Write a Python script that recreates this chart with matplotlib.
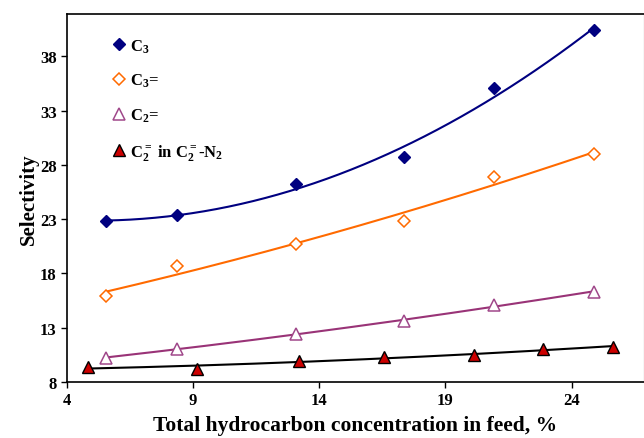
import matplotlib
matplotlib.use('Agg')
import matplotlib.pyplot as plt
import numpy as np

plt.rcParams['font.family'] = ['Liberation Serif', 'DejaVu Serif']
plt.rcParams['font.weight'] = 'bold'
plt.rcParams['mathtext.fontset'] = 'custom'
plt.rcParams['mathtext.rm'] = 'Liberation Serif:bold'
plt.rcParams['mathtext.it'] = 'Liberation Serif:bold'
plt.rcParams['mathtext.bf'] = 'Liberation Serif:bold'
plt.rcParams['mathtext.default'] = 'rm'

# selectivity vs. total hydrocarbon concentration
x_c3    = [5.55, 8.37, 13.07, 17.36, 20.94, 24.87]
c3      = [22.8, 23.4, 26.2, 28.7, 35.05, 40.4]
x_c3e   = [5.55, 8.37, 13.07, 17.36, 20.94, 24.87]
c3e     = [15.9, 18.65, 20.7, 22.8, 26.9, 29.0]
x_c2e   = [5.55, 8.37, 13.07, 17.36, 20.94, 24.87]
c2e     = [10.25, 11.05, 12.4, 13.6, 15.1, 16.3]
x_mix   = [4.85, 9.15, 13.18, 16.58, 20.12, 22.88, 25.64]
mix     = [9.4, 9.18, 9.92, 10.3, 10.53, 11.06, 11.2]

labels = [r'C$_3$', r'C$_3$=', r'C$_2$=', r'C$_2^{=}$ in C$_2^{=}$-N$_2$']
xticks = [4, 9, 14, 19, 24]
yticks = [8, 13, 18, 23, 28, 33, 38]

series = [
    (x_c3, c3, dict(marker='D', ms=6.5, mfc='#000080', mec='#000080'), '#000080'),
    (x_c3e, c3e, dict(marker='D', ms=6.5, mfc='white', mec='#FF6A00', mew=1.1), '#FF6A00'),
    (x_c2e, c2e, dict(marker='^', ms=8, mfc='white', mec='#A0488A', mew=1.1), '#993377'),
    (x_mix, mix, dict(marker='^', ms=8, mfc='#CC0000', mec='black', mew=1.0), 'black'),
]

fig = plt.figure(figsize=(6.44, 4.39), dpi=100)
fig.patch.set_facecolor('white')
ax = fig.add_axes([67/644, 56/439, 576.5/644, 368/439])

for (xs, ys, mk, lc), lab in zip(series, labels):
    xs = np.asarray(xs)
    ys = np.asarray(ys)
    # second-order trend line through each series
    coef = np.polyfit(xs, ys, 2)
    xf = np.linspace(xs.min(), xs.max(), 200)
    ax.plot(xf, np.polyval(coef, xf), color=lc, lw=1.5, zorder=2)
    ax.plot(xs, ys, linestyle='none', label=lab, zorder=3, **mk)

ax.set_xlim(4, 26.85)
ax.set_ylim(8, 41.9)
ax.set_xticks(xticks)
ax.set_yticks(yticks)
ax.tick_params(direction='out', length=4, width=1, labelsize=12, colors='black')
for lbl in ax.get_xticklabels() + ax.get_yticklabels():
    lbl.set_fontweight('bold')

for s in ['left', 'bottom', 'top']:
    ax.spines[s].set_color('black')
    ax.spines[s].set_linewidth(1.2)
ax.spines['right'].set_color('#d4d4d4')
ax.spines['right'].set_linewidth(1.0)

ax.set_ylabel('Selectivity', fontsize=15, fontweight='bold', labelpad=1)
ax.set_xlabel('Total hydrocarbon concentration in feed, %', fontsize=15.5,
              fontweight='bold', labelpad=5)

leg = ax.legend(loc='upper left', bbox_to_anchor=(0.078, 0.937), frameon=False,
                borderpad=0, borderaxespad=0, handlelength=0.8, handletextpad=0.3,
                labelspacing=1.05, prop={'family': 'Liberation Serif', 'weight': 'bold', 'size': 12})

fig.savefig('out.png', dpi=100, facecolor='white')
plt.close(fig)
